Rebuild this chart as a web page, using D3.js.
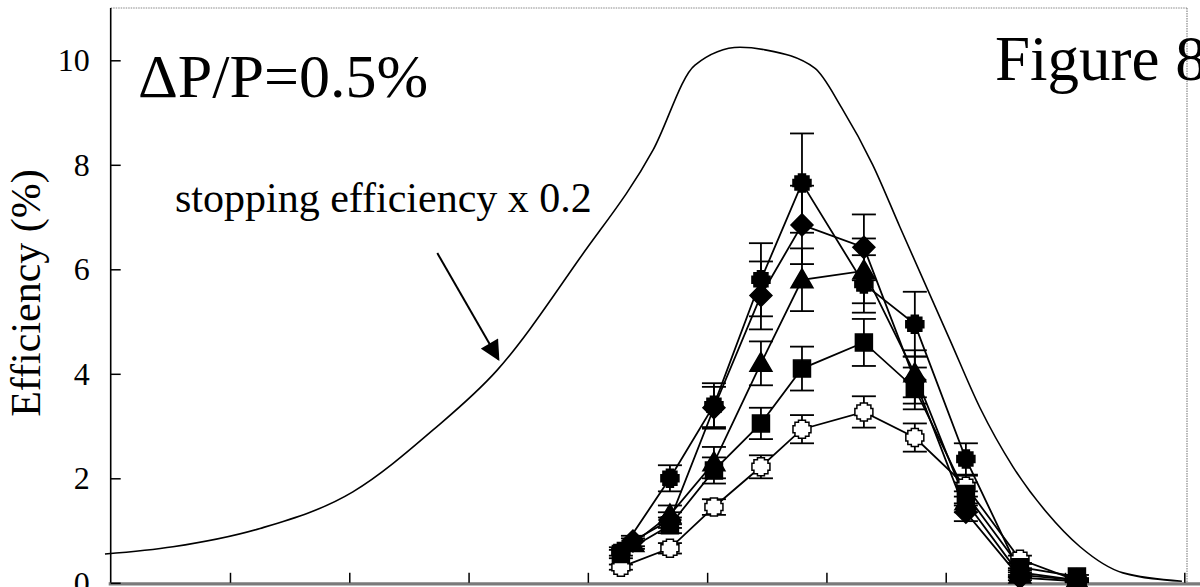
<!DOCTYPE html>
<html>
<head>
<meta charset="utf-8">
<script src="https://cdn.jsdelivr.net/npm/d3@7"></script>
<style>
  html, body { margin: 0; padding: 0; background: #fff; overflow: hidden; }
  svg { display: block; font-family: "Liberation Serif", "Times New Roman", serif; }
</style>
</head>
<body>
<svg id="chart" width="1200" height="587"></svg>
<script>
// ---- data -------------------------------------------------------------
// Momentum positions (axis units) of the measured points.
const xFirstA = 4.277;   // first point of circle / square / open series
const xFirstB = 4.378;   // first point of diamond / triangle series
const xCommon = [4.688, 5.057, 5.451, 5.795, 6.314, 6.741, 7.169, 7.622, 8.1];

const circleVals   = [0.6, 2.0, 3.4, 5.8, 7.65, 5.72, 4.95, 2.37, 0.2, 0.05];
const circleErr    = [0.08, 0.25, 0.42, 0.7, 0.95, 0.55, 0.62, 0.3, 0.08, 0.03];
const diamondVals  = [0.8, 1.2, 3.35, 5.5, 6.85, 6.42, 3.88, 1.35, 0.1, 0.03];
const diamondErr   = [0.1, 0.15, 0.4, 0.65, 0.75, 0.63, 0.45, 0.17, 0.05, 0.02];
const triangleVals = [0.75, 1.3, 2.3, 4.2, 5.8, 5.97, 4.0, 1.55, 0.15, 0.05];
const triangleErr  = [0.1, 0.18, 0.3, 0.42, 0.6, 0.62, 0.45, 0.2, 0.05, 0.02];
const squareVals   = [0.55, 1.1, 2.15, 3.05, 4.1, 4.6, 3.72, 1.7, 0.3, 0.12];
const squareErr    = [0.08, 0.15, 0.25, 0.3, 0.42, 0.45, 0.4, 0.22, 0.06, 0.03];
const openVals     = [0.3, 0.66, 1.45, 2.22, 2.94, 3.27, 2.78, 1.85, 0.45, 0.04];
const openErr      = [0.05, 0.1, 0.15, 0.22, 0.27, 0.3, 0.27, 0.2, 0.07, 0.02];

// Stopping efficiency (scaled by 0.2) vs momentum.
const stopX = [-0.048, 0.522, 1.252, 2.03, 2.70, 3.24, 3.935, 4.546, 4.898, 5.275, 5.485,
               5.902, 6.128, 6.388, 6.616, 7.035, 7.287, 7.564, 7.849, 8.126, 8.486, 8.98];
const stopY = [0.55, 0.69, 1.04, 1.74, 2.92, 4.07, 6.22, 8.28, 9.91, 10.25, 10.2,
               9.85, 9.09, 8.0, 6.81, 4.65, 3.35, 2.22, 1.34, 0.69, 0.19, 0.03];

const yTicks = [0, 2, 4, 6, 8, 10];
const xTicks = [1, 2, 3, 4, 5, 6, 7, 8, 9];

// ---- layout -----------------------------------------------------------
const svg = d3.select("#chart");
const x = d3.scaleLinear().domain([0, 9]).range([110.7, 1184.3]);
const y = d3.scaleLinear().domain([0, 10]).range([582.8, 60.3]);
const topY = 8, rightX = 1187;

// frame: dotted grey top and right edges, dithered grey baseline
svg.append("line").attr("x1", x(0)).attr("x2", rightX).attr("y1", topY).attr("y2", topY)
  .attr("stroke", "#888").attr("stroke-width", 1.2).attr("stroke-dasharray", "1.5,1");
svg.append("line").attr("x1", rightX).attr("x2", rightX).attr("y1", topY).attr("y2", y(0))
  .attr("stroke", "#888").attr("stroke-width", 1.2).attr("stroke-dasharray", "1.5,1");
svg.append("line").attr("x1", x(0) - 2).attr("x2", 1200).attr("y1", y(0) + 1).attr("y2", y(0) + 1)
  .attr("stroke", "#7a7a7a").attr("stroke-width", 3.2);
svg.append("line").attr("x1", x(0)).attr("x2", x(0)).attr("y1", topY).attr("y2", y(0))
  .attr("stroke", "#000").attr("stroke-width", 1.6);

// y axis
const yAxis = svg.append("g").attr("transform", `translate(${x(0)},0)`)
  .call(d3.axisLeft(y).tickValues(yTicks).tickSizeInner(-10).tickSizeOuter(0).tickPadding(21));
yAxis.select(".domain").remove();
yAxis.selectAll(".tick line").attr("stroke", "#000").attr("stroke-width", 1.5);
yAxis.selectAll(".tick text").attr("font-family", "Liberation Serif, Times New Roman, serif")
  .attr("font-size", 32).attr("fill", "#000");

// x axis (tick marks only)
const xAxis = svg.append("g").attr("transform", `translate(0,${y(0)})`)
  .call(d3.axisBottom(x).tickValues(xTicks).tickSizeInner(-10).tickSizeOuter(0).tickFormat(""));
xAxis.select(".domain").remove();
xAxis.selectAll(".tick line").attr("stroke", "#000").attr("stroke-width", 1.5);

// axis title
svg.append("text")
  .attr("transform", "translate(40,293) rotate(-90)")
  .attr("text-anchor", "middle").attr("font-size", 42).attr("fill", "#000")
  .text("Efficiency (%)");

// annotations
svg.append("text").attr("x", 138).attr("y", 97).attr("font-size", 62).attr("fill", "#000")
  .text("\u0394P/P=0.5%");
svg.append("text").attr("x", 995).attr("y", 80).attr("font-size", 63).attr("fill", "#000")
  .text("Figure 8");
svg.append("text").attr("x", 175).attr("y", 212).attr("font-size", 42).attr("fill", "#000")
  .text("stopping efficiency x 0.2");

// arrow pointing at the stopping-efficiency curve
const arrowFrom = [2.738, 6.31], arrowTo = [3.25, 4.28];
svg.append("defs").append("marker").attr("id", "arrowhead")
  .attr("viewBox", "0 0 10 10").attr("refX", 9).attr("refY", 5)
  .attr("markerWidth", 22).attr("markerHeight", 20).attr("markerUnits", "userSpaceOnUse")
  .attr("orient", "auto")
  .append("path").attr("d", "M0,0 L10,5 L0,10 z").attr("fill", "#000");
svg.append("line")
  .attr("x1", x(arrowFrom[0])).attr("y1", y(arrowFrom[1]))
  .attr("x2", x(arrowTo[0])).attr("y2", y(arrowTo[1]))
  .attr("stroke", "#000").attr("stroke-width", 2)
  .attr("marker-end", "url(#arrowhead)");

// stopping efficiency curve
const stopData = stopX.map((v, i) => [v, stopY[i]]);
svg.append("path").datum(stopData)
  .attr("fill", "none").attr("stroke", "#000").attr("stroke-width", 1.6)
  .attr("d", d3.line().x(d => x(d[0])).y(d => y(d[1])).curve(d3.curveMonotoneX));

// ---- measured series ---------------------------------------------------
const stepCircle = "M-3.5,-9L3.5,-9L3.5,-7L7,-7L7,-3.5L9,-3.5L9,3.5L7,3.5L7,7L3.5,7L3.5,9L-3.5,9L-3.5,7L-7,7L-7,3.5L-9,3.5L-9,-3.5L-7,-3.5L-7,-7L-3.5,-7Z";
const markerPath = {
  circle: stepCircle,
  open: stepCircle,
  square: "M-8.5,-8.5L8.5,-8.5L8.5,8.5L-8.5,8.5Z",
  diamond: "M0,-11L11,0L0,11L-11,0Z",
  triangle: "M0,-11L11,8L-11,8Z"
};

const series = [
  { name: "open",     vals: openVals,     err: openErr,     x0: xFirstA, fill: "#fff" },
  { name: "square",   vals: squareVals,   err: squareErr,   x0: xFirstA, fill: "#000" },
  { name: "triangle", vals: triangleVals, err: triangleErr, x0: xFirstB, fill: "#000" },
  { name: "diamond",  vals: diamondVals,  err: diamondErr,  x0: xFirstB, fill: "#000" },
  { name: "circle",   vals: circleVals,   err: circleErr,   x0: xFirstA, fill: "#000" }
];
series.forEach(s => {
  s.points = s.vals.map((v, i) => ({ x: i === 0 ? s.x0 : xCommon[i - 1], v, e: s.err[i] }));
});

const line = d3.line().x(d => x(d.x)).y(d => y(d.v));
const capW = 12;

// connecting lines
svg.append("g").selectAll("path").data(series).join("path")
  .attr("fill", "none").attr("stroke", "#000").attr("stroke-width", 1.8)
  .attr("d", s => line(s.points));

// error bars
series.forEach(s => {
  const g = svg.append("g").attr("stroke", "#000").attr("stroke-width", 1.8);
  g.selectAll("line.v").data(s.points).join("line").attr("class", "v")
    .attr("x1", d => x(d.x)).attr("x2", d => x(d.x))
    .attr("y1", d => y(d.v - d.e)).attr("y2", d => y(d.v + d.e));
  g.selectAll("line.t").data(s.points).join("line").attr("class", "t")
    .attr("x1", d => x(d.x) - capW).attr("x2", d => x(d.x) + capW)
    .attr("y1", d => y(d.v + d.e)).attr("y2", d => y(d.v + d.e));
  g.selectAll("line.b").data(s.points).join("line").attr("class", "b")
    .attr("x1", d => x(d.x) - capW).attr("x2", d => x(d.x) + capW)
    .attr("y1", d => y(d.v - d.e)).attr("y2", d => y(d.v - d.e));
});

// markers
series.forEach(s => {
  svg.append("g").selectAll("path").data(s.points).join("path")
    .attr("transform", d => `translate(${x(d.x)},${y(d.v)})`)
    .attr("d", markerPath[s.name])
    .attr("fill", s.fill).attr("stroke", "#000").attr("stroke-width", 1.5);
});
</script>
</body>
</html>
